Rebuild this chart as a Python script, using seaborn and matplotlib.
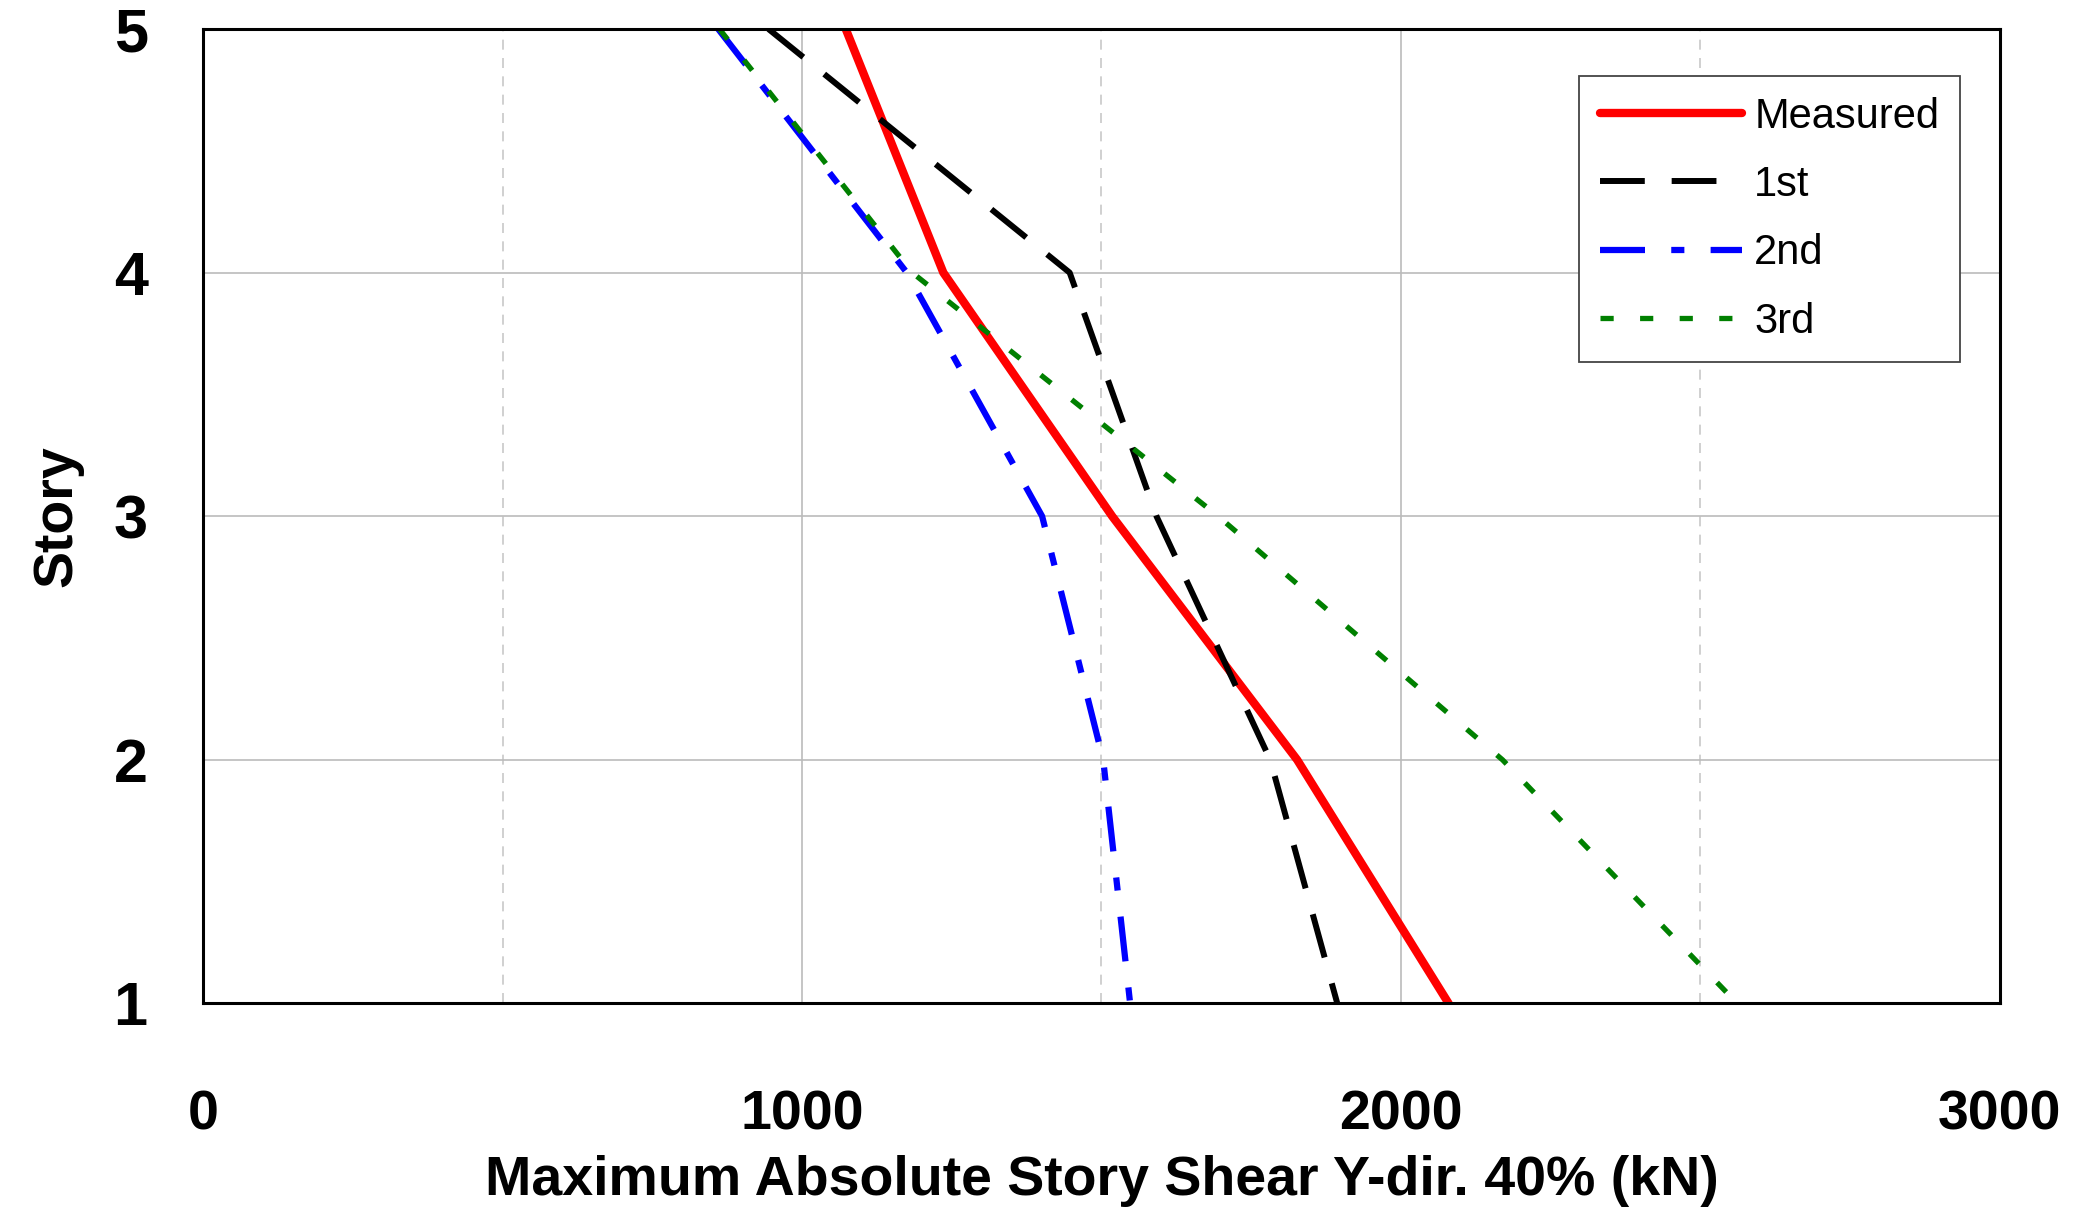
import numpy as np
import pandas as pd
import seaborn as sns
import matplotlib
matplotlib.use('Agg')
import matplotlib.pyplot as plt
from matplotlib.ticker import MultipleLocator

# Данные: этажи и максимальные сдвиги (kN)
stories = [5, 4, 3, 2, 1]
measured = [1073, 1236, 1518, 1827, 2080]
first = [944, 1447, 1592, 1782, 1894]
second = [860, 1175, 1401, 1503, 1548]
third = [862, 1184, 1695, 2170, 2562]
labels = ['Measured', '1st', '2nd', '3rd']
x_ticks = [0, 1000, 2000, 3000]
y_ticks = [1, 2, 3, 4, 5]

sns.set_style('white')
plt.rcParams['font.family'] = ['Liberation Sans', 'DejaVu Sans']
plt.rcParams['text.color'] = 'black'
plt.rcParams['axes.labelcolor'] = 'black'
plt.rcParams['xtick.color'] = 'black'
plt.rcParams['ytick.color'] = 'black'

fig = plt.figure(figsize=(20.85, 12.09), dpi=100)
ax = fig.add_axes([0.0975, 0.170, 0.8615, 0.806])

styles = [
    dict(color='red', lw=6.0, linestyle='-'),
    dict(color='black', lw=4.3, linestyle=(0, (7.5, 4.5))),
    dict(color='blue', lw=4.5, linestyle=(0, (7.2, 4.2, 2.1, 4.2))),
    dict(color='green', lw=3.8, linestyle=(0, (2.5, 5.0))),
]
for vals, lab, st in zip([measured, first, second, third], labels, styles):
    sns.lineplot(x=vals, y=stories, sort=False, ax=ax, label=lab, **st)

ax.set_xlim(0, 3000)
ax.set_ylim(1, 5)
ax.set_xticks(x_ticks)
ax.set_yticks(y_ticks)
ax.xaxis.set_minor_locator(MultipleLocator(500))

# сетка: сплошные на 1000, пунктир на 500
ax.grid(True, which='major', color='#bbbbbb', lw=1.2, ls='-')
ax.grid(True, which='minor', axis='x', color='#c8c8c8', lw=1.2, ls=(0, (6, 5)))
ax.set_axisbelow(True)

for sp in ax.spines.values():
    sp.set_visible(True)
    sp.set_color('black')
    sp.set_linewidth(2.2)

ax.tick_params(axis='x', which='major', direction='in', length=8, width=1.5, pad=62, labelsize=40)
ax.tick_params(axis='x', which='minor', direction='in', length=8, width=1.2)
ax.tick_params(axis='y', which='major', direction='in', length=8, width=1.5, pad=40, labelsize=44)
for t in ax.get_xticklabels() + ax.get_yticklabels():
    t.set_fontweight('bold')

ax.set_xlabel('Maximum Absolute Story Shear Y-dir. 40% (kN)', fontsize=40, fontweight='bold', labelpad=10)
ax.set_ylabel('Story', fontsize=40, fontweight='bold', labelpad=22)

leg = ax.legend(loc='upper right', bbox_to_anchor=(0.978, 0.952), borderaxespad=0,
                fontsize=30, handlelength=3.4, handletextpad=0.3, labelspacing=0.68,
                frameon=True, fancybox=False, edgecolor='#444444', framealpha=1,
                borderpad=0.5)
leg.get_frame().set_linewidth(1.3)

fig.savefig('out.png', dpi=100)
